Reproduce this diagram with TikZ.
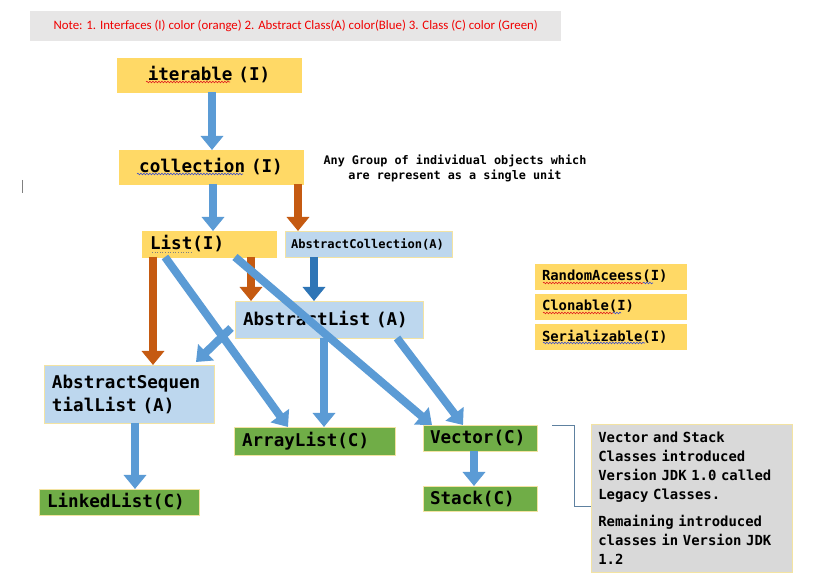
\documentclass[tikz,border=0pt]{standalone}
\usepackage{fontspec}
\setmainfont{Carlito}
\newfontfamily\codefont{DejaVu Sans Mono}
% monospace glue: every space as wide as one character cell
\newcommand\monospaces{\spaceskip=0.602em\relax\xspaceskip=0.602em\relax}
\usetikzlibrary{arrows.meta,decorations.pathmorphing}

\definecolor{ifill}{HTML}{FFD966}
\definecolor{afill}{HTML}{BDD7EE}
\definecolor{cfill}{HTML}{70AD47}
\definecolor{notegray}{HTML}{E7E6E6}
\definecolor{sidegray}{HTML}{D9D9D9}
\definecolor{edgeyellow}{HTML}{F3E3A2}
\definecolor{arrblue}{HTML}{5B9BD5}
\definecolor{arrorange}{HTML}{C55A11}
\definecolor{arrdark}{HTML}{2E75B6}
\definecolor{bracketcol}{HTML}{5E81A0}
\definecolor{notered}{HTML}{F00000}
\definecolor{spellred}{HTML}{E02020}
\definecolor{spellblue}{HTML}{4050C8}

\begin{document}
\begin{tikzpicture}[x=1pt,y=-1pt,
  box/.style={anchor=north west, inner xsep=8pt, inner ysep=0pt, outer sep=0pt,
    align=left, draw=edgeyellow, line width=0.75pt,
    font=\codefont\bfseries\fontsize{17.6}{23}\selectfont\monospaces},
  iface/.style={box, fill=ifill, draw=ifill},
  abs/.style={box, fill=afill},
  cls/.style={box, fill=cfill},
  smalltext/.style={font=\codefont\bfseries\fontsize{13.9}{19}\selectfont\monospaces},
  arr/.style={line width=8pt, -{Triangle[width=22pt,length=14pt]}},
  arrb/.style={arr, draw=arrblue},
  arro/.style={arr, draw=arrorange},
  arrd/.style={arr, draw=arrdark},
  spell/.style={line width=0.6pt, decorate,
    decoration={snake, amplitude=0.8pt, segment length=3pt}},
  bracketline/.style={draw=bracketcol, line width=0.8pt}]

% canvas
\fill[white] (0,0) rectangle (823,585);
\useasboundingbox (0,0) rectangle (823,585);

% colour legend
\node[anchor=north west, fill=notegray, minimum width=531pt, minimum height=30pt,
  inner sep=0pt, text=notered, font=\fontsize{12.85}{14}\selectfont] (legend) at (30,11)
  {Note: 1. Interfaces (I) color (orange) 2. Abstract Class(A) color(Blue) 3. Class (C) color (Green)};

% hierarchy
\node[iface, text width=168pt, minimum height=34pt, align=center] (iter) at (117,58) {iterable (I)};
\node[iface, text width=168pt, minimum height=34pt, align=center] (coll) at (119,150) {collection (I)};
\node[anchor=center, align=center, font=\codefont\bfseries\fontsize{11.8}{15}\selectfont\monospaces] (desc) at (455,168.5)
  {Any Group of individual objects which\\are represent as a single unit};
\node[iface, text width=118pt, minimum height=26pt] (list) at (142,231) {List(I)};
\node[abs, inner xsep=6pt, text width=155pt, minimum height=26pt,
  font=\codefont\bfseries\fontsize{12.1}{14}\selectfont] (acoll) at (285,231) {AbstractCollection(A)};
\node[abs, text width=172pt, minimum height=37pt] (alist) at (235,301) {AbstractList (A)};
\node[abs, text width=154pt, minimum height=58pt] (asl) at (44,365) {AbstractSequen\\tialList (A)};
\node[cls, text width=145pt, minimum height=28pt] (arrl) at (234,427) {ArrayList(C)};
\node[cls, inner xsep=7pt, text width=100pt, minimum height=26pt] (vec) at (423,425) {Vector(C)};
\node[cls, inner xsep=7pt, text width=100pt, minimum height=25pt] (stack) at (423,486) {Stack(C)};
\node[cls, text width=144pt, minimum height=26pt] (linked) at (39,489) {LinkedList(C)};

% marker interfaces
\node[iface, smalltext, inner xsep=7pt, text width=137pt, minimum height=25pt] (ra) at (535,264) {RandomAceess(I)};
\node[iface, smalltext, inner xsep=7pt, text width=137pt, minimum height=25pt] (clon) at (535,294) {Clonable(I)};
\node[iface, smalltext, inner xsep=7pt, text width=137pt, minimum height=25pt] (ser) at (535,324) {Serializable(I)};

% side remark
\node[anchor=north west, fill=sidegray, draw=edgeyellow, line width=0.75pt,
  inner xsep=7pt, inner ysep=0pt, text width=187pt, minimum height=148pt, align=left,
  font=\codefont\bfseries\fontsize{13.9}{19}\selectfont\monospaces] (side) at (591,424)
  {Vector and Stack\\Classes introduced\\Version JDK 1.0 called\\Legacy Classes.\\[8pt]
   Remaining introduced\\classes in Version JDK\\1.2};

% inheritance arrows
\draw[arrb] ([xshift=95pt]iter.south west) -- ([xshift=93pt]coll.north west);
\draw[arrb] ([xshift=94pt]coll.south west) -- ([xshift=71pt]list.north west);
\draw[arro] ([xshift=179pt]coll.south west) -- ([xshift=13pt]acoll.north west);
\draw[arro] ([xshift=11pt]list.south west) -- ([xshift=109pt]asl.north west);
\draw[arro] ([xshift=109pt]list.south west) -- ([xshift=16pt]alist.north west);
\draw[arrd] ([xshift=29pt]acoll.south west) -- ([xshift=79pt]alist.north west);
\draw[arrb] ([xshift=-4pt,yshift=10pt]alist.south west) -- ([xshift=-18pt,yshift=3pt]asl.north east);
\draw[arrb] ([xshift=23pt]list.south west) -- ([xshift=54pt]arrl.north west);
\draw[arrb] ([xshift=93pt]list.south west) -- ([xshift=9pt]vec.north west);
\draw[arrb] ([xshift=89pt]alist.south west) -- ([xshift=90pt]arrl.north west);
\draw[arrb] ([xshift=162pt]alist.south west) -- ([xshift=40pt]vec.north west);
\draw[arrb] ([xshift=91pt]asl.south west) -- ([xshift=96pt]linked.north west);
\draw[arrb] ([xshift=51pt]vec.south west) -- ([xshift=51pt]stack.north west);

% bracket to the remark
\draw[bracketline] ([xshift=15pt]vec.north east) -| ([xshift=-17pt,yshift=-8pt]side.west)
  -- ([yshift=-8pt]side.west);

% spell-check squiggles
\draw[spell, spellred] ([xshift=29pt,yshift=10pt]iter.south west) -- ([xshift=113pt,yshift=10pt]iter.south west);
\draw[spell, spellblue] ([xshift=18pt,yshift=10pt]coll.south west) -- ([xshift=124pt,yshift=10pt]coll.south west);
\draw[gray, line width=0.6pt, dotted] ([xshift=10pt,yshift=5pt]list.south west) -- ([xshift=51pt,yshift=5pt]list.south west);
\draw[spell, spellred] ([xshift=8pt,yshift=6pt]ra.south west) -- ([xshift=108pt,yshift=6pt]ra.south west);
\draw[spell, spellblue] ([xshift=108pt,yshift=6pt]ra.south west) -- ([xshift=118pt,yshift=6pt]ra.south west);
\draw[spell, spellred] ([xshift=8pt,yshift=6pt]clon.south west) -- ([xshift=78pt,yshift=6pt]clon.south west);
\draw[spell, spellblue] ([xshift=78pt,yshift=6pt]clon.south west) -- ([xshift=86pt,yshift=6pt]clon.south west);
\draw[spell, spellblue] ([xshift=8pt,yshift=6pt]ser.south west) -- ([xshift=110pt,yshift=6pt]ser.south west);

% stray text cursor mark
\draw[gray, line width=1pt] (22,180) -- (22,193);
\end{tikzpicture}
\end{document}
